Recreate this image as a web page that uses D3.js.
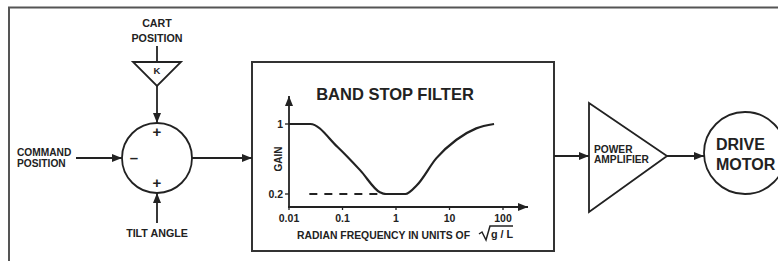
<!DOCTYPE html>
<html>
<head>
<meta charset="utf-8">
<script src="https://cdn.jsdelivr.net/npm/d3@7"></script>
<style>
  html, body { margin: 0; padding: 0; background: #fff; }
  svg { display: block; font-family: "Liberation Sans", Arial, sans-serif; font-weight: bold; }
</style>
</head>
<body>
<div id="art"></div>
<script>
// band stop filter response
const freq = [0.01, 0.025, 0.08, 0.215, 0.5, 0.65, 1.5, 2.45, 5.7, 13.5, 31.6, 68];
const gain = [1, 1, 0.74, 0.47, 0.22, 0.2, 0.2, 0.3, 0.61, 0.82, 0.95, 1];
const freqTicks = [0.01, 0.1, 1, 10, 100];
const freqTickLabels = ["0.01", "0.1", "1", "10", "100"];
const gainTicks = [0.2, 1];
const gainTickLabels = ["0.2", "1"];
const dashGain = 0.2;
const dashFrom = 0.024;

function art() {
  const width = 778, height = 261;
  const ink = "#222";

  const svg = d3.select("#art").append("svg")
    .attr("width", width).attr("height", height)
    .attr("viewBox", `0 0 ${width} ${height}`);

  svg.append("defs").append("marker")
    .attr("id", "arr")
    .attr("markerUnits", "userSpaceOnUse")
    .attr("viewBox", "0 0 10 8")
    .attr("refX", 10).attr("refY", 4)
    .attr("markerWidth", 11).attr("markerHeight", 8)
    .attr("orient", "auto")
    .append("path").attr("d", "M0,0 L10,4 L0,8 Z").attr("fill", ink);

  const line = (x1, y1, x2, y2, arrow) => {
    const l = svg.append("line")
      .attr("x1", x1).attr("y1", y1).attr("x2", x2).attr("y2", y2)
      .attr("stroke", ink).attr("stroke-width", 1.8);
    if (arrow) l.attr("marker-end", "url(#arr)");
    return l;
  };
  const text = (x, y, s, size, anchor) => svg.append("text")
    .attr("x", x).attr("y", y).attr("font-size", size)
    .attr("text-anchor", anchor || "middle").attr("fill", ink).text(s);

  // outer frame (open on right and bottom)
  svg.append("path").attr("d", "M9,265 L9,7.5 L780,7.5")
    .attr("fill", "none").attr("stroke", "#555").attr("stroke-width", 2);

  // summing junction
  const sx = 157, sy = 158, sr = 35;
  svg.append("circle").attr("cx", sx).attr("cy", sy).attr("r", sr)
    .attr("fill", "none").attr("stroke", ink).attr("stroke-width", 1.8);
  text(sx, 137, "+", 15);
  text(sx, 188, "+", 15);
  text(134, 163, "\u2013", 15);

  text(sx, 27, "CART", 10.7);
  text(sx, 42, "POSITION", 10.7);
  line(sx, 46, sx, 62);
  svg.append("path").attr("d", "M133,62 L181,62 L157,86 Z")
    .attr("fill", "none").attr("stroke", ink).attr("stroke-width", 1.8);
  text(sx, 74, "K", 9.5);
  line(sx, 86, sx, sy - sr, true);

  text(17, 156, "COMMAND", 10.2, "start");
  text(17, 167, "POSITION", 10.2, "start");
  line(76, sy, sx - sr, sy, true);

  line(sx, 223, sx, sy + sr, true);
  text(sx, 237, "TILT ANGLE", 10.7);

  // filter box
  const bx = 252, by = 62, bw = 302, bh = 189;
  svg.append("rect").attr("x", bx).attr("y", by).attr("width", bw).attr("height", bh)
    .attr("fill", "none").attr("stroke", "#333").attr("stroke-width", 2);
  line(sx + sr, sy, bx, sy, true);
  text(395, 100, "BAND STOP FILTER", 16.5);

  const x = d3.scaleLog().domain([0.01, 100]).range([289, 503]);
  const y = d3.scaleLinear().domain([0.2, 1]).range([194, 124]);
  const x0 = x(0.01), y0 = 207;

  line(x0, y0, x0, 96, true);
  line(x0 - 1, y0, 528, y0, true);

  svg.selectAll(".xt").data(freqTicks).enter().append("line")
    .attr("x1", d => x(d)).attr("x2", d => x(d))
    .attr("y1", y0).attr("y2", y0 + 3)
    .attr("stroke", ink).attr("stroke-width", 1.3);
  svg.selectAll(".xl").data(freqTicks).enter().append("text")
    .attr("x", d => x(d)).attr("y", 222)
    .attr("font-size", 10.5).attr("text-anchor", "middle").attr("fill", ink)
    .text((d, i) => freqTickLabels[i]);

  svg.selectAll(".yt").data(gainTicks).enter().append("line")
    .attr("x1", x0 - 4).attr("x2", x0)
    .attr("y1", d => y(d)).attr("y2", d => y(d))
    .attr("stroke", ink).attr("stroke-width", 1.3);
  svg.selectAll(".yl").data(gainTicks).enter().append("text")
    .attr("x", x0 - 6).attr("y", d => y(d) + 4)
    .attr("font-size", 10.5).attr("text-anchor", "end").attr("fill", ink)
    .text((d, i) => gainTickLabels[i]);

  text(0, 0, "GAIN", 10)
    .attr("transform", `translate(282,${(y(1) + y(0.2)) / 2}) rotate(-90)`);

  // dashed guide at minimum gain
  line(x(dashFrom), y(dashGain), x(freq[5]), y(dashGain))
    .attr("stroke-dasharray", "8,7");

  const pts = freq.map((f, i) => [x(f), y(gain[i])]);
  svg.append("path")
    .attr("d", d3.line().curve(d3.curveMonotoneX)(pts))
    .attr("fill", "none").attr("stroke", ink).attr("stroke-width", 2.2);

  text(297, 239, "RADIAN FREQUENCY IN UNITS OF", 10.4, "start");
  svg.append("path").attr("d", "M479,234 L482,232 L486,240 L490,226 L513,226")
    .attr("fill", "none").attr("stroke", ink).attr("stroke-width", 1.5);
  text(491, 238, "g / L", 10.8, "start");

  // power amplifier
  line(bx + bw, 156, 589, 156, true);
  svg.append("path").attr("d", "M589,103 L667,156 L589,212 Z")
    .attr("fill", "none").attr("stroke", ink).attr("stroke-width", 1.8);
  text(594, 153, "POWER", 10.2, "start");
  text(594, 163, "AMPLIFIER", 10.2, "start");
  line(667, 156, 704, 156, true);

  // drive motor
  svg.append("circle").attr("cx", 745).attr("cy", 153).attr("r", 41)
    .attr("fill", "none").attr("stroke", ink).attr("stroke-width", 1.8);
  text(716, 150, "DRIVE", 16, "start");
  text(716, 170, "MOTOR", 16, "start");
}

window.onload = function () {
  art();
};
</script>
</body>
</html>
